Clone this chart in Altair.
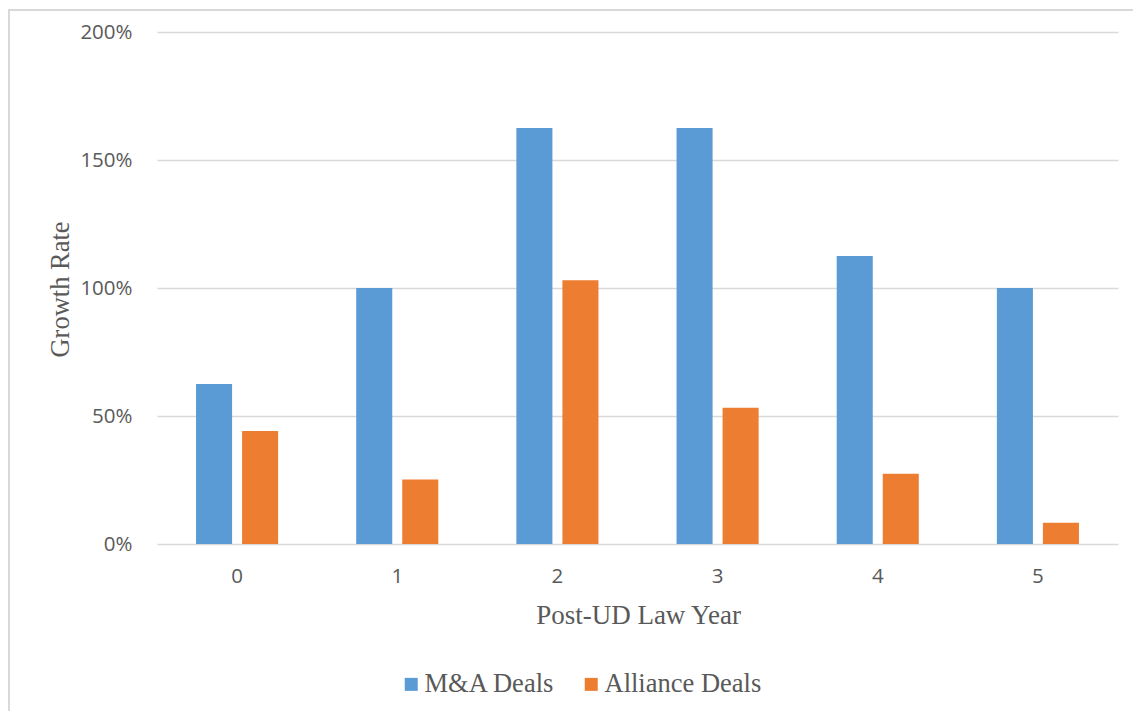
import altair as alt
import pandas as pd

years = ["0", "1", "2", "3", "4", "5"]
ma_deals = [0.625, 1.00, 1.625, 1.625, 1.125, 1.00]
alliance_deals = [0.441, 0.252, 1.030, 0.532, 0.274, 0.083]
series_names = ["M&A Deals", "Alliance Deals"]
colors = ["#5B9BD5", "#ED7D31"]
y_ticks = [0, 0.5, 1.0, 1.5, 2.0]

rows = []
for i, yr in enumerate(years):
    rows.append({"year": yr, "series": series_names[0], "value": ma_deals[i]})
    rows.append({"year": yr, "series": series_names[1], "value": alliance_deals[i]})
df = pd.DataFrame(rows)

W, H = 961, 512
PAD = {"left": 149, "top": 24, "right": 15, "bottom": 167}

frame = alt.Chart(pd.DataFrame({"f": [0]})).mark_rect(
    fill="white", fillOpacity=0, stroke="#d9d9d9", strokeWidth=2
).encode(
    x=alt.value(-148),
    x2=alt.value(W + PAD["right"] + 5),
    y=alt.value(-22),
    y2=alt.value(H + PAD["bottom"] + 5),
)

bars = alt.Chart(df).mark_bar().encode(
    x=alt.X(
        "year:N",
        sort=years,
        scale=alt.Scale(paddingInner=0, paddingOuter=0),
        axis=alt.Axis(
            title="Post-UD Law Year",
            labelAngle=0,
            labelPadding=22,
            titleX=481,
            titleY=79,
            titleBaseline="alphabetic",
            titleFontSize=27,
        ),
    ),
    xOffset=alt.XOffset(
        "series:N",
        sort=series_names,
        scale=alt.Scale(paddingInner=0.217, paddingOuter=0.848),
    ),
    y=alt.Y(
        "value:Q",
        scale=alt.Scale(domain=[0, 2], nice=False),
        axis=alt.Axis(
            values=y_ticks,
            format=".0%",
            title="Growth Rate",
            labelPadding=25,
            titleX=-89,
            titleY=257,
            titleAngle=270,
            titleBaseline="alphabetic",
            titleAlign="center",
            titleFontSize=26.5,
        ),
    ),
    color=alt.Color(
        "series:N",
        sort=series_names,
        scale=alt.Scale(domain=series_names, range=colors),
        legend=alt.Legend(
            title=None,
            orient="none",
            legendX=241,
            legendY=639,
            direction="horizontal",
            symbolType="square",
            symbolSize=169,
            symbolStrokeWidth=0,
            symbolOpacity=1,
            labelFont="Liberation Serif",
            labelFontSize=26.5,
            labelColor="#595959",
            labelOffset=0,
            columnPadding=23,
            padding=0,
        ),
    ),
)

chart = alt.layer(frame, bars).properties(
    width=W,
    height=H,
    autosize=alt.AutoSizeParams(type="none"),
    padding=PAD,
).configure_view(
    stroke="transparent"
).configure_axis(
    domain=False,
    ticks=False,
    grid=False,
    labelFont="Open Sans",
    labelFontSize=20.5,
    labelColor="#595959",
    titleFont="Liberation Serif",
    titleFontWeight="normal",
    titleColor="#595959",
).configure_axisY(
    grid=True,
    gridColor="#d9d9d9",
    gridWidth=1.4,
)

chart.save("out.html", embed_options={"renderer": "svg", "actions": False})
